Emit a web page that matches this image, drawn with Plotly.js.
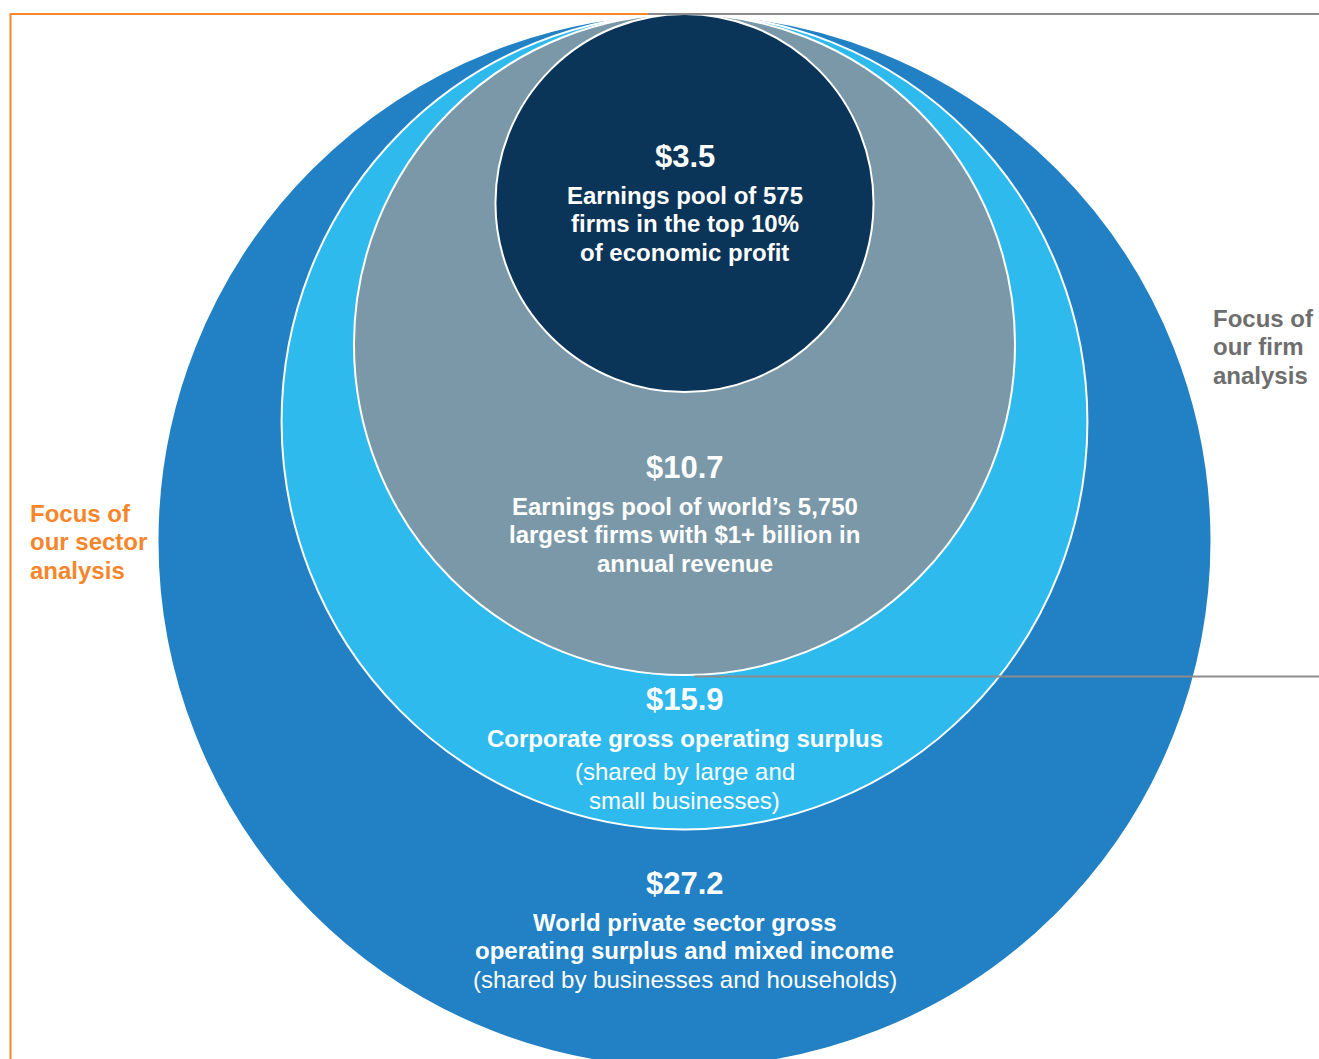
<!DOCTYPE html>
<html>
<head>
<meta charset="utf-8">
<script src="https://cdn.plot.ly/plotly-3.0.1.min.js"></script>
<style>
html,body{margin:0;padding:0;background:#fff;}
#chart{width:1319px;height:1059px;}
</style>
</head>
<body>
<div id="chart"></div>
<script>
// ---- DATA ----
const pools = ["World private sector", "Corporate", "Largest firms", "Top 10% firms"];
const values = [27.2, 15.9, 10.7, 3.5]; // $ trillions
const boldLabels = [
  ["World private sector gross", "operating surplus and mixed income"],
  ["Corporate gross operating surplus"],
  ["Earnings pool of world\u2019s 5,750", "largest firms with $1+ billion in", "annual revenue"],
  ["Earnings pool of 575", "firms in the top 10%", "of economic profit"]
];
const noteLabels = [
  ["(shared by businesses and households)"],
  ["(shared by large and", "small businesses)"],
  [],
  []
];
const sectorLabel = ["Focus of", "our sector", "analysis"];
const firmLabel = ["Focus of", "our firm", "analysis"];

// ---- STYLE / LAYOUT ----
const W = 1319, H = 1059;
const fills = ["#2181c4", "#2fbaed", "#7a98a7", "#0b3558"];
const stretchY = [1, 1.012, 1, 1]; // slight vertical stretch of drawn shapes as in original
const FONT = "Liberation Sans, Arial, sans-serif";
const cx = 684.5, topY = 14;
const scale = 527 / Math.sqrt(values[0]); // radius proportional to sqrt(value) (area-proportional)
const valueY = [883, 699, 467, 156];
const lineGap = 28.6;

const shapes = [];
values.forEach((v, i) => {
  const r = scale * Math.sqrt(v);
  shapes.push({
    type: "circle", xref: "x", yref: "y",
    x0: cx - r, x1: cx + r, y0: topY, y1: topY + 2 * r * stretchY[i],
    fillcolor: fills[i], line: {color: "#ffffff", width: 2}, layer: "above"
  });
});
// bracket lines
shapes.push({type: "path", xref: "x", yref: "y", path: `M 10.5 ${H} L 10.5 14 L 648 14`,
  line: {color: "#f5862b", width: 2}, layer: "above"});
shapes.push({type: "line", xref: "x", yref: "y", x0: 648, x1: W, y0: 14, y1: 14,
  line: {color: "#8c8c8c", width: 2}, layer: "above"});
const grayR = scale * Math.sqrt(values[2]);
shapes.push({type: "line", xref: "x", yref: "y", x0: cx + 10, x1: W, y0: topY + 2 * grayR + 1.5, y1: topY + 2 * grayR + 1.5,
  line: {color: "#8c8c8c", width: 2}, layer: "above"});

const annotations = [];
function addText(x, y, text, size, bold, color, anchor) {
  annotations.push({
    x: x, y: y, xref: "x", yref: "y", text: text, showarrow: false,
    xanchor: anchor || "center", yanchor: "middle",
    font: {family: FONT, size: size, color: color, weight: bold ? "bold" : "normal"}
  });
}
values.forEach((v, i) => {
  let y = valueY[i];
  addText(cx, y, "$" + v.toFixed(1), 31, true, "#ffffff");
  y += 39;
  boldLabels[i].forEach((t) => { addText(cx, y, t, 24, true, "#ffffff"); y += lineGap; });
  if (i === 1) y += 5;
  noteLabels[i].forEach((t) => { addText(cx, y, t, 24, false, "#ffffff"); y += lineGap; });
});
sectorLabel.forEach((t, j) => addText(28, 513 + j * 28.6, t, 24, true, "#f5862b", "left"));
firmLabel.forEach((t, j) => addText(1211, 318 + j * 28.6, t, 24, true, "#6e6e6e", "left"));

Plotly.newPlot("chart", [{x: [], y: [], type: "scatter", mode: "markers", hoverinfo: "skip", showlegend: false}], {
  width: W, height: H,
  margin: {l: 0, r: 0, t: 0, b: 0, pad: 0},
  paper_bgcolor: "#ffffff", plot_bgcolor: "#ffffff",
  xaxis: {range: [0, W], visible: false, fixedrange: true},
  yaxis: {range: [H, 0], visible: false, fixedrange: true},
  shapes: shapes,
  annotations: annotations,
  showlegend: false
}, {staticPlot: true});
</script>
</body>
</html>
